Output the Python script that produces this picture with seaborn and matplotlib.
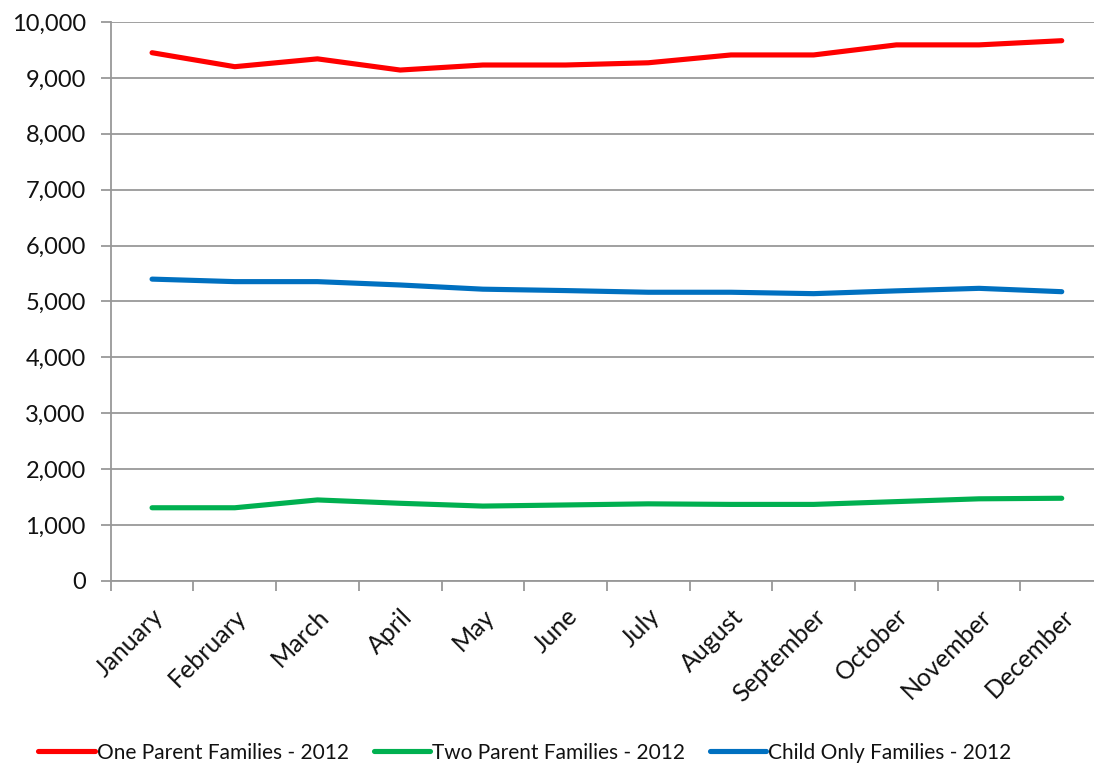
import matplotlib
matplotlib.use("Agg")
import matplotlib.pyplot as plt
import pandas as pd
import seaborn as sns
from matplotlib.ticker import FuncFormatter, FixedLocator, MultipleLocator

# Monthly family counts, 2012
months = ["January", "February", "March", "April", "May", "June",
          "July", "August", "September", "October", "November", "December"]
one_parent = [9450, 9200, 9340, 9140, 9230, 9230, 9270, 9410, 9410, 9590, 9590, 9665]
two_parent = [1310, 1310, 1450, 1390, 1340, 1360, 1380, 1370, 1370, 1420, 1470, 1480]
child_only = [5400, 5355, 5355, 5295, 5220, 5195, 5165, 5165, 5140, 5190, 5235, 5175]

series_names = ["One Parent Families - 2012",
                "Two Parent Families - 2012",
                "Child Only Families - 2012"]
series_colors = ["#FF0000", "#00B050", "#0070C0"]

df = pd.DataFrame({
    "Month": months * 3,
    "Families": one_parent + two_parent + child_only,
    "Series": [series_names[0]] * 12 + [series_names[1]] * 12 + [series_names[2]] * 12,
})

sns.set_style("white")
plt.rcParams["font.family"] = ["Lato", "DejaVu Sans"]

grid_color = "#989898"
text_color = "#111111"

fig = plt.figure(figsize=(10.94, 7.68), dpi=100)
ax = fig.add_axes([0.1012, 0.2435, 0.8988, 0.7279])

sns.lineplot(data=df, x="Month", y="Families", hue="Series",
             palette=dict(zip(series_names, series_colors)),
             hue_order=series_names, sort=False, linewidth=3.7,
             solid_capstyle="round", ax=ax, legend=False)

ax.set_ylim(0, 10000)
ax.set_xlim(-0.5, 11.39)
ax.yaxis.set_major_locator(MultipleLocator(1000))
ax.yaxis.set_major_formatter(FuncFormatter(lambda v, p: f"{int(v):,}"))
ax.grid(axis="y", color=grid_color, linewidth=1.3)
ax.grid(axis="x", visible=False)
ax.set_axisbelow(True)

# category labels centred, tick marks on the category boundaries
ax.set_xticks(range(len(months)))
ax.set_xticklabels(months, rotation=45, ha="right", rotation_mode="anchor",
                   fontsize=18, color=text_color)
ax.xaxis.set_minor_locator(FixedLocator([i - 0.5 for i in range(len(months) + 1)]))
ax.tick_params(axis="x", which="major", length=0, pad=17)
ax.tick_params(axis="x", which="minor", length=7, width=1.3, color=grid_color,
               direction="out", bottom=True)
ax.tick_params(axis="y", length=7, width=1.3, color=grid_color, direction="out",
               left=True, labelsize=17, pad=11, labelcolor=text_color)

ax.set_xlabel("")
ax.set_ylabel("")
for side in ["top", "right"]:
    ax.spines[side].set_visible(False)
for side in ["left", "bottom"]:
    ax.spines[side].set_color(grid_color)
    ax.spines[side].set_linewidth(1.3)

handles = [plt.Line2D([], [], color=c, linewidth=3.7, solid_capstyle="round")
           for c in series_colors]
fig.legend(handles, series_names, loc="center", bbox_to_anchor=(0.48, 0.02),
           ncol=3, frameon=False, fontsize=15, handlelength=2.7,
           handletextpad=0.1, columnspacing=1.2, labelcolor=text_color)

fig.savefig("out.png", dpi=100)
